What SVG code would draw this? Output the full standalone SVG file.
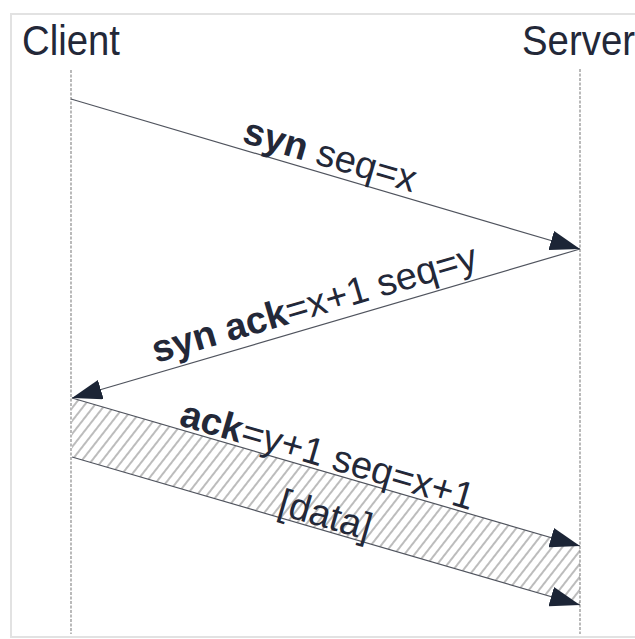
<svg xmlns="http://www.w3.org/2000/svg" width="635" height="639" viewBox="0 0 635 639">
  <style>
    .lbl { font-family: "Liberation Sans", Arial, sans-serif; fill: #232838; }
    .title { font-size: 42px; }
    .msg { font-size: 38px; }
    .b { font-weight: bold; }
    .life { stroke: #8c8c8c; stroke-width: 1.2; stroke-dasharray: 3 1.5; fill: none; }
    .arrow { stroke: #50545e; stroke-width: 1.2; fill: none; }
  </style>
  <defs>
    <marker id="head" markerUnits="userSpaceOnUse" markerWidth="30" markerHeight="20" refX="30" refY="10" orient="auto" viewBox="0 0 30 20">
      <path d="M0,0 L30,10 L0,20 z" fill="#1c2536"/>
    </marker>
    <pattern id="hatch" patternUnits="userSpaceOnUse" width="8" height="8" patternTransform="rotate(38)">
      <line x1="4" y1="0" x2="4" y2="8" stroke="#858585" stroke-width="1.1"/>
    </pattern>
  </defs>
  <rect width="635" height="639" fill="#ffffff"/>
  <rect x="11" y="14" width="640" height="623" fill="none" stroke="#e2e2e2" stroke-width="2"/>

  <g id="client">
    <text class="lbl title" x="22" y="55" textLength="98" lengthAdjust="spacingAndGlyphs">Client</text>
    <line class="life" x1="71" y1="70" x2="71" y2="634"/>
  </g>
  <g id="server">
    <text class="lbl title" x="522" y="55" textLength="113" lengthAdjust="spacingAndGlyphs">Server</text>
    <line class="life" x1="580" y1="69" x2="580" y2="634"/>
  </g>

  <g id="data-band">
    <polygon points="72,398 580,546 580,605 72,457" fill="url(#hatch)"/>
  </g>

  <g id="connectors">
    <line class="arrow" x1="71" y1="99" x2="580" y2="249" marker-end="url(#head)"/>
    <line class="arrow" x1="580" y1="249" x2="72" y2="398" marker-end="url(#head)"/>
    <line class="arrow" x1="72" y1="398" x2="580" y2="546" marker-end="url(#head)"/>
    <line class="arrow" x1="72" y1="457" x2="580" y2="605" marker-end="url(#head)"/>
  </g>

  <g id="labels">
    <text class="lbl msg" transform="translate(241,142) rotate(16.42)"><tspan class="b">syn</tspan> seq=x</text>
    <text class="lbl msg" transform="translate(156,363) rotate(-16.35)"><tspan class="b">syn ack</tspan>=x+1 seq=y</text>
    <text class="lbl msg" transform="translate(178,425) rotate(16.24)"><tspan class="b">ack</tspan>=y+1 seq=x+1</text>
    <text class="lbl msg" text-anchor="middle" transform="translate(322,527) rotate(16.24)">[data]</text>
  </g>
</svg>
